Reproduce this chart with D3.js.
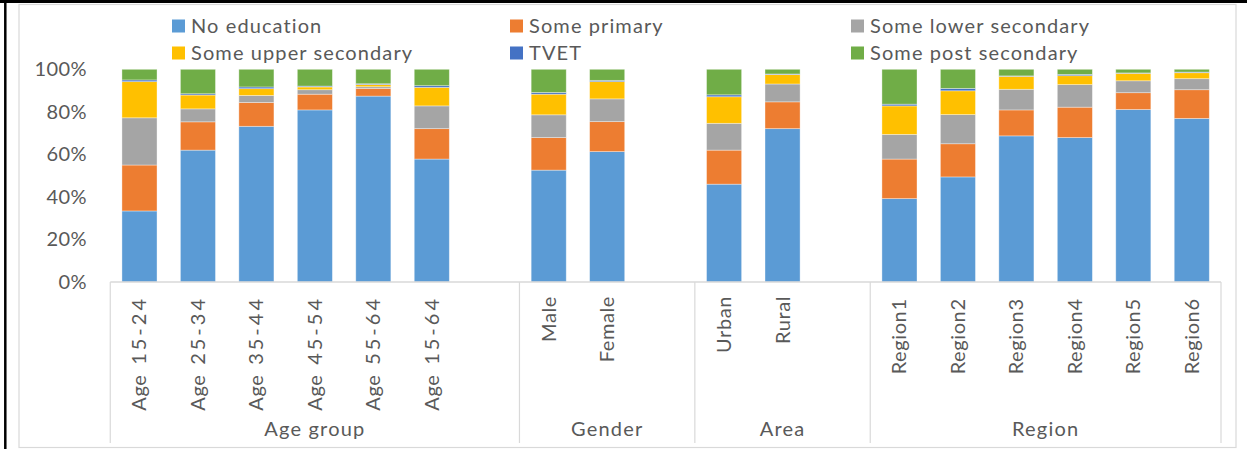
<!DOCTYPE html>
<html>
<head>
<meta charset="utf-8">
<script src="https://cdn.jsdelivr.net/npm/d3@7"></script>
<style>
  body { margin: 0; background: #fff; }
  svg text { font-family: Lato, "Open Sans", sans-serif; fill: #595959; }
</style>
</head>
<body>
<svg id="chart" width="1247" height="449"></svg>
<script>
// Categories (blank entries are the gaps between groups)
const categories = ['Age 15-24', 'Age 25-34', 'Age 35-44', 'Age 45-54', 'Age 55-64', 'Age 15-64', '',
  'Male', 'Female', '', 'Urban', 'Rural', '',
  'Region1', 'Region2', 'Region3', 'Region4', 'Region5', 'Region6'];
const groups = ['Age group', 'Gender', 'Area', 'Region'];
const groupSizes = [7, 3, 3, 6];

const seriesNames = ['No education', 'Some primary', 'Some lower secondary',
  'Some upper secondary', 'TVET', 'Some post secondary'];
const seriesColors = ['#5B9BD5', '#ED7D31', '#A5A5A5', '#FFC000', '#4472C4', '#70AD47'];

// Shares in percent, one value per category (null for the gap slots)
const noEducation = [33.4, 62.0, 73.2, 80.9, 87.4, 57.8, null, 52.6, 61.3, null, 46.0, 72.1, null, 39.2, 49.4, 68.7, 67.9, 81.1, 76.9];
const somePrimary = [21.6, 13.3, 11.2, 7.4, 3.6, 14.3, null, 15.3, 14.1, null, 16.0, 12.6, null, 18.6, 15.6, 12.2, 14.3, 7.9, 13.5];
const someLowerSec = [22.2, 6.1, 3.3, 2.1, 0.8, 10.7, null, 10.7, 10.7, null, 12.6, 8.4, null, 11.6, 13.7, 9.7, 10.6, 5.6, 5.2];
const someUpperSec = [17.0, 6.5, 3.2, 1.3, 1.0, 8.7, null, 9.7, 8.1, null, 12.5, 4.4, null, 13.4, 11.2, 6.1, 4.2, 3.5, 2.8];
const tvet = [0.8, 0.6, 0.8, 0.4, 0.4, 0.8, null, 0.8, 0.6, null, 0.9, 0.3, null, 0.8, 1.1, 0.2, 0.6, 0.2, 0.3];
const somePostSec = [5.0, 11.5, 8.3, 7.9, 6.8, 7.7, null, 10.9, 5.2, null, 12.0, 2.2, null, 16.4, 9.0, 3.1, 2.4, 1.7, 1.3];

const yTicks = [0, 0.2, 0.4, 0.6, 0.8, 1.0];

const seriesValues = [noEducation, somePrimary, someLowerSec, someUpperSec, tvet, somePostSec];

const svg = d3.select('#chart');

// Outer frame lines
svg.append('line').attr('x1', 0).attr('x2', 1247).attr('y1', 1.5).attr('y2', 1.5)
  .attr('stroke', '#000').attr('stroke-width', 3);
svg.append('line').attr('x1', 5.3).attr('x2', 5.3).attr('y1', 0).attr('y2', 449)
  .attr('stroke', '#000').attr('stroke-width', 2.5);
// Chart area border
svg.append('rect').attr('x', 19).attr('y', 4.5).attr('width', 1217).attr('height', 443)
  .attr('fill', 'none').attr('stroke', '#D9D9D9').attr('stroke-width', 1.2);

// Scales
const x = d3.scaleBand()
  .domain(d3.range(categories.length))
  .range([110.25, 1221])
  .paddingInner(0.4)
  .paddingOuter(0.2);

const y = d3.scaleLinear()
  .domain([0, 1])
  .range([282, 69.3]);

// Build stacked table
const table = categories.map((c, i) => {
  const row = { idx: i, label: c };
  seriesNames.forEach((s, k) => { row[s] = (seriesValues[k][i] || 0) / 100; });
  return row;
});
const stacked = d3.stack().keys(seriesNames)(table);

// Bars
svg.append('g').selectAll('g')
  .data(stacked)
  .join('g')
  .attr('fill', (d, k) => seriesColors[k])
  .selectAll('rect')
  .data((d) => d.filter((p) => categories[p.data.idx] !== ''))
  .join('rect')
  .attr('x', (d) => x(d.data.idx))
  .attr('width', x.bandwidth())
  .attr('y', (d) => y(d[1]))
  .attr('height', (d) => y(d[0]) - y(d[1]))
  .attr('stroke', 'rgba(255,255,255,0.45)')
  .attr('stroke-width', 0.8);

// Y axis labels
const yAxis = d3.axisLeft(y).tickValues(yTicks).tickFormat(d3.format('.0%')).tickSize(0).tickPadding(0);
const yg = svg.append('g').attr('transform', 'translate(87,0)').call(yAxis);
yg.select('.domain').remove();
yg.selectAll('text').style('font-size', '20px').style('font-family', 'Lato, sans-serif')
  .style('letter-spacing', '0.4px').attr('fill', '#595959');

// Category axis line
const step = x.step();
const x0 = x.range()[0];
svg.append('line').attr('x1', x0).attr('x2', x.range()[1]).attr('y1', 282).attr('y2', 282)
  .attr('stroke', '#D9D9D9').attr('stroke-width', 1.5);

// Group dividers
let cum = 0;
const bounds = [0];
groupSizes.forEach((n) => { cum += n; bounds.push(cum); });
svg.append('g').selectAll('line')
  .data(bounds)
  .join('line')
  .attr('x1', (b) => x0 + b * step)
  .attr('x2', (b) => x0 + b * step)
  .attr('y1', 282)
  .attr('y2', 443)
  .attr('stroke', '#D9D9D9')
  .attr('stroke-width', 1.2);

// Rotated category labels: digits are set wider, like the original font
const labels = svg.append('g').selectAll('text')
  .data(categories.map((c, i) => ({ c, i })).filter((d) => d.c !== ''))
  .join('text')
  .attr('transform', (d) => `translate(${x(d.i) + x.bandwidth() / 2 + 7},296) rotate(-90)`)
  .attr('text-anchor', 'end')
  .style('font-size', '20px')
  .style('word-spacing', '4px');
labels.selectAll('tspan')
  .data((d) => d.c.match(/[0-9-]+|[^0-9-]+/g))
  .join('tspan')
  .style('letter-spacing', (t) => (/[0-9-]/.test(t) ? '3px' : '0.6px'))
  .text((t) => t);

// Group labels
svg.append('g').selectAll('text')
  .data(groups)
  .join('text')
  .attr('x', (g, i) => x0 + (bounds[i] + bounds[i + 1]) / 2 * step)
  .attr('y', 436)
  .attr('text-anchor', 'middle')
  .style('font-size', '20px')
  .style('letter-spacing', '1.2px')
  .text((g) => g);

// Legend: 3 columns x 2 rows
const legendX = [172, 510, 851];
const legendY = [26, 53];
const legend = svg.append('g').selectAll('g')
  .data(seriesNames)
  .join('g')
  .attr('transform', (d, i) => `translate(${legendX[i % 3]},${legendY[Math.floor(i / 3)]})`);
legend.append('rect')
  .attr('x', 0).attr('y', -6.5).attr('width', 13).attr('height', 13)
  .attr('fill', (d, i) => seriesColors[i]);
legend.append('text')
  .attr('x', 19).attr('y', 7)
  .style('font-size', '20px')
  .style('letter-spacing', '1.1px')
  .text((d) => d);
</script>
</body>
</html>
